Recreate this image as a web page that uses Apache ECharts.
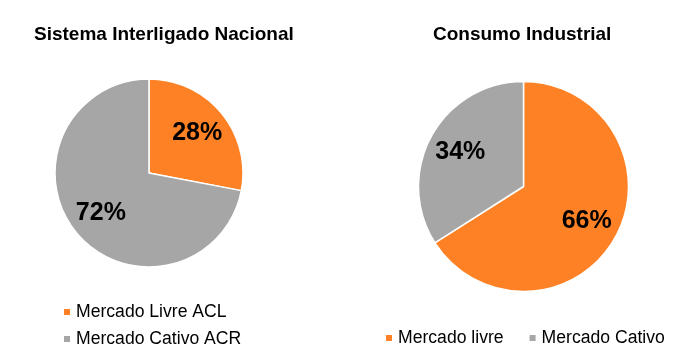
<!DOCTYPE html>
<html>
<head>
<meta charset="utf-8">
<script src="https://cdn.jsdelivr.net/npm/echarts@6/dist/echarts.min.js"></script>
<style>
  html, body { margin: 0; padding: 0; background: #ffffff; }
  #chart { width: 686px; height: 362px; }
</style>
</head>
<body>
<div id="chart"></div>
<script>
// ---- Data ----
const leftTitle = 'Sistema Interligado Nacional';
const leftCategories = ['Mercado Livre ACL', 'Mercado Cativo ACR'];
const leftValues = [28, 72];

const rightTitle = 'Consumo Industrial';
const rightCategories = ['Mercado livre', 'Mercado Cativo'];
const rightValues = [66, 34];

const sliceColors = ['#FE8225', '#A6A6A6'];

// ---- Chart ----
const FONT = '"Liberation Sans", Arial, sans-serif';
const chart = echarts.init(document.getElementById('chart'), null, { renderer: 'canvas' });

function pieSeries(name, cats, vals, center, radius, K) {
  return {
    type: 'pie',
    name: name,
    center: center,
    radius: radius,
    startAngle: 90,
    clockwise: true,
    silent: true,
    animation: false,
    itemStyle: { borderColor: '#ffffff', borderWidth: 1.5 },
    label: {
      show: true,
      position: 'inside',
      formatter: '{c}%',
      color: '#000000',
      fontFamily: FONT,
      fontWeight: 'bold',
      fontSize: 25
    },
    labelLine: { show: false },
    labelLayout: function (p) {
      const r = p.labelRect;
      const lx = r.x + r.width / 2;
      const ly = r.y + r.height / 2;
      return {
        x: center[0] + (lx - center[0]) * K,
        y: center[1] + (ly - center[1]) * K,
        align: 'center',
        verticalAlign: 'middle'
      };
    },
    emphasis: { disabled: true },
    data: cats.map((c, i) => ({ name: c, value: vals[i], itemStyle: { color: sliceColors[i] } }))
  };
}

const legendText = { color: '#000000', fontFamily: FONT, fontSize: 17.6, lineHeight: 18 };

chart.setOption({
  backgroundColor: '#ffffff',
  animation: false,
  title: [
    {
      text: leftTitle,
      left: 29, top: 20,
      textStyle: { color: '#000000', fontFamily: FONT, fontWeight: 'bold', fontSize: 19, lineHeight: 19 }
    },
    {
      text: rightTitle,
      left: 428, top: 20,
      textStyle: { color: '#000000', fontFamily: FONT, fontWeight: 'bold', fontSize: 19, lineHeight: 19 }
    }
  ],
  legend: [
    {
      data: leftCategories,
      orient: 'vertical',
      left: 62, top: 303,
      icon: 'rect', itemWidth: 8, itemHeight: 8,
      itemGap: 9,
      selectedMode: false,
      textStyle: legendText,
      padding: 0
    },
    {
      data: rightCategories,
      orient: 'horizontal',
      left: 384, top: 329,
      icon: 'rect', itemWidth: 8, itemHeight: 8,
      itemGap: 24,
      selectedMode: false,
      textStyle: legendText,
      padding: 0
    }
  ],
  series: [
    pieSeries(leftTitle, leftCategories, leftValues, [149, 173], 94, 1.25),
    pieSeries(rightTitle, rightCategories, rightValues, [523.5, 186.5], 105, 1.3)
  ]
});
</script>
</body>
</html>
